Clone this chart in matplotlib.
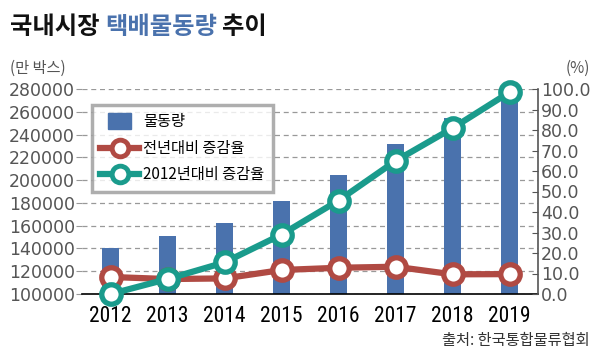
import matplotlib
matplotlib.use("Agg")
import matplotlib.pyplot as plt
from matplotlib.lines import Line2D
from matplotlib.patches import Patch, Rectangle
from matplotlib.legend_handler import HandlerPatch
from matplotlib import font_manager

years = ["2012", "2013", "2014", "2015", "2016", "2017", "2018", "2019"]
volume = [140600, 150900, 162300, 181400, 204700, 231900, 254300, 278900]
yoy = [8.3, 7.3, 7.6, 11.7, 12.8, 13.3, 9.6, 9.7]
vs2012 = [0.0, 7.3, 15.4, 29.0, 45.6, 64.9, 80.9, 98.4]
left_ticks = [100000, 120000, 140000, 160000, 180000, 200000, 220000, 240000, 260000, 280000]
right_ticks = [0, 10, 20, 30, 40, 50, 60, 70, 80, 90, 100]

BLUE = "#4a72ad"
RED = "#b04a43"
TEAL = "#1a9b8c"
GRAY = "#555555"

plt.rcParams['font.family'] = ['Noto Sans CJK KR', 'DejaVu Sans']

# pick a narrow font for the year labels if available
ttf = font_manager.fontManager.ttflist
def find_narrow():
    prefs = ['liberationsansnarrow-regular', 'robotocondensed-regular',
             'opensans_condensed-regular', 'opensanscondensed', 'dejavusanscondensed.ttf']
    for p in prefs:
        for f in ttf:
            if p in f.fname.lower().replace(' ', '').replace('_', '') or p in f.fname.lower():
                return f.fname
    for f in ttf:
        n = f.fname.lower()
        if ('condensed' in n or 'narrow' in n) and 'bold' not in n and 'italic' not in n \
                and 'light' not in n:
            return f.fname
    return None

nf = find_narrow()
if nf:
    year_fp = font_manager.FontProperties(fname=nf, size=15.5)
else:
    year_fp = font_manager.FontProperties(family='DejaVu Sans', size=13.5)

fig = plt.figure(figsize=(6, 3.55), dpi=100)
ax = fig.add_axes([82/600, 1-294/355, 456/600, 205/355])
ax2 = ax.twinx()

x = list(range(len(years)))
ax.bar(x, volume, width=0.3, color=BLUE, zorder=2)
ax.set_ylim(100000, 280000)
ax.set_xlim(-0.5, 7.5)
ax.set_yticks(left_ticks)
ax.set_yticklabels([str(v) for v in left_ticks], fontsize=12.5, color=GRAY,
                   family=['DejaVu Sans'])
ax.yaxis.grid(True, linestyle=(0, (4, 3)), color="#999999", linewidth=0.9, zorder=0)
ax.set_axisbelow(True)
ax.tick_params(axis='y', length=4, color="#999999", pad=1)
ax.set_xticks(x)
ax.set_xticklabels(years, color="black", fontproperties=year_fp)
ax.tick_params(axis='x', length=0, pad=9)
for s in ['left', 'top', 'right']:
    ax.spines[s].set_visible(False)
ax.spines['bottom'].set_color('black')
ax.spines['bottom'].set_linewidth(1.2)
ax.spines['bottom'].set_zorder(5)

mk = dict(marker='o', markersize=14, markerfacecolor='white', markeredgewidth=3.8,
          linewidth=4.5, clip_on=False, zorder=4)
ax2.plot(x, yoy, color=RED, markeredgecolor=RED, **mk)
ax2.plot(x, vs2012, color=TEAL, markeredgecolor=TEAL, **mk)
ax2.set_ylim(0, 100)
ax2.set_yticks(right_ticks)
ax2.set_yticklabels([f"{v:.1f}" for v in right_ticks], fontsize=12.5, color=GRAY,
                    family=['DejaVu Sans'])
ax2.tick_params(axis='y', direction='in', length=4, color=GRAY, pad=2)
for s in ['left', 'top', 'bottom']:
    ax2.spines[s].set_visible(False)
ax2.spines['right'].set_color(GRAY)
ax2.spines['right'].set_linewidth(1.2)


def small_rect(legend, orig_handle, xdescent, ydescent, width, height, fontsize):
    w, h = 16.5, 11.0
    cx = -xdescent + width / 2
    cy = -ydescent + height / 2
    return Rectangle((cx - w / 2, cy - h / 2), w, h)


handles = [
    Patch(facecolor=BLUE, edgecolor=BLUE),
    Line2D([0], [0], color=RED, marker='o', markersize=12, markerfacecolor='white',
           markeredgecolor=RED, markeredgewidth=3.5, linewidth=4.5),
    Line2D([0], [0], color=TEAL, marker='o', markersize=12, markerfacecolor='white',
           markeredgecolor=TEAL, markeredgewidth=3.5, linewidth=4.5),
]
labels = ["물동량", "전년대비 증감율", "2012년대비 증감율"]
leg = ax2.legend(handles, labels, loc='upper left', bbox_to_anchor=(0.022, 0.922),
                 borderaxespad=0, frameon=True, fancybox=False, fontsize=11,
                 handlelength=2.5, borderpad=0.55, labelspacing=0.62, handletextpad=0.3,
                 handler_map={Patch: HandlerPatch(patch_func=small_rect)})
leg.get_frame().set_edgecolor("#9a9a9a")
leg.get_frame().set_linewidth(2.5)
leg.set_zorder(10)

# titles
ty = 1-27/355
tfs = 17.5
t1 = fig.text(10/600, ty, "국내시장 ", fontsize=tfs, fontweight='bold', color='#111111',
              va='center', ha='left')
fig.canvas.draw()
r = fig.canvas.get_renderer()
bb = t1.get_window_extent(r)
t2 = fig.text(bb.x1/600, ty, "택배물동량", fontsize=tfs, fontweight='bold', color=BLUE,
              va='center', ha='left')
bb2 = t2.get_window_extent(r)
fig.text(bb2.x1/600 + 5/600, ty, "추이", fontsize=tfs, fontweight='bold', color='#111111',
         va='center', ha='left')

fig.text(10/600, 1-68/355, "(만 박스)", fontsize=11, color=GRAY, va='center', ha='left')
fig.text(590/600, 1-68/355, "(%)", fontsize=11, color=GRAY, va='center', ha='right')
fig.text(590/600, 1-340/355, "출처: 한국통합물류협회", fontsize=11, color='#333333',
         va='center', ha='right')

fig.savefig("out.png", dpi=100)
